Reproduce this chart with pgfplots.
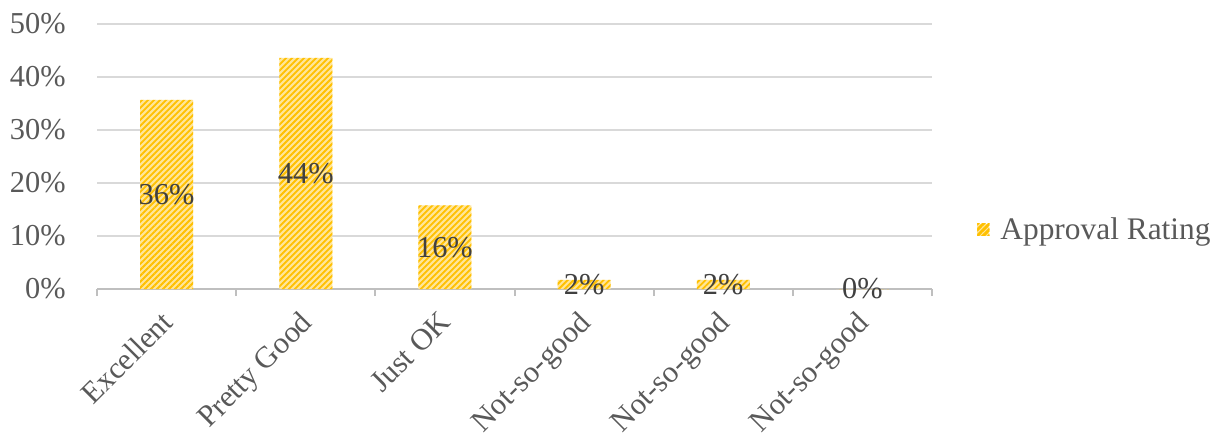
\documentclass[border=0pt]{standalone}
\usepackage{pgfplots}
\pgfplotsset{compat=1.18}
\usepackage{fontspec}
\setmainfont{Liberation Serif}
\usetikzlibrary{patterns.meta}
\definecolor{barstripe}{HTML}{FFC000}
\definecolor{barbg}{HTML}{FFE699}
\definecolor{txtgray}{HTML}{595959}
\definecolor{lblgray}{HTML}{404040}
\definecolor{gridgray}{HTML}{D9D9D9}
\definecolor{axgray}{HTML}{BFBFBF}
\newcommand{\chartfont}{\fontsize{15.2}{18}\selectfont}
\newcommand{\legfont}{\fontsize{15.7}{18}\selectfont}
\begin{document}
\begin{tikzpicture}
\path[use as bounding box] (0,0) rectangle (610.5pt,220pt);
\begin{axis}[
  at={(48.5pt,75.5pt)}, anchor=south west,
  width=417.5pt, height=132.5pt, scale only axis,
  ybar, bar width=26.5pt,
  xmin=-0.5, xmax=5.5, ymin=0, ymax=50,
  /pgf/number format/assume math mode=true,
  ytick={0,10,...,50},
  yticklabel={\pgfmathprintnumber{\tick}\%},
  yticklabel style={font=\chartfont, text=txtgray, inner sep=0pt, xshift=-15.5pt, anchor=east},
  xtick={0,...,5},
  xticklabels={Excellent,Pretty Good,Just OK,Not-so-good,Not-so-good,Not-so-good},
  xticklabel style={xshift=-3.5pt, yshift=-10pt, rotate=45, anchor=north east, inner sep=0pt, font=\chartfont, text=txtgray},
  major tick length=0pt,
  minor xtick={-0.5,0.5,...,5.5},
  minor tick length=3.5pt,
  xtick align=outside,
  minor x tick style={axgray, line width=1pt},
  ytick style={draw=none},
  axis x line*=bottom,
  axis y line*=left,
  y axis line style={draw=none},
  x axis line style={axgray, line width=1pt, -},
  ymajorgrids,
  grid style={gridgray, line width=0.75pt},
  nodes near coords={\pgfmathprintnumber[fixed,precision=0]{\pgfplotspointmeta}\%},
  visualization depends on={rawy \as \rawy},
  every node near coord/.append style={anchor=center, yshift={-1.325pt*\rawy}, font=\chartfont, text=lblgray, inner sep=0pt},
  legend style={draw=none, fill=none, at={(1,0.223)}, anchor=west, xshift=22.5pt, inner sep=0pt, font=\legfont, text=txtgray, cells={anchor=west},
    /tikz/every odd column/.append style={column sep=3.5pt}},
  legend image code/.code={%
    \fill[barbg] (0pt,-3pt) rectangle (6pt,3pt);
    \path[pattern={Lines[angle=45,distance=2.1pt,line width=0.8pt]}, pattern color=barstripe] (0pt,-3pt) rectangle (6pt,3pt);},
]
\addplot[draw=none, fill=barbg, postaction={pattern={Lines[angle=45,distance=2.12pt,line width=0.9pt]}, pattern color=barstripe}]
  coordinates {(0,35.7) (1,43.6) (2,15.8) (3,1.7) (4,1.7) (5,0)};
\addlegendentry{Approval Rating}
\end{axis}
\end{tikzpicture}
\end{document}
